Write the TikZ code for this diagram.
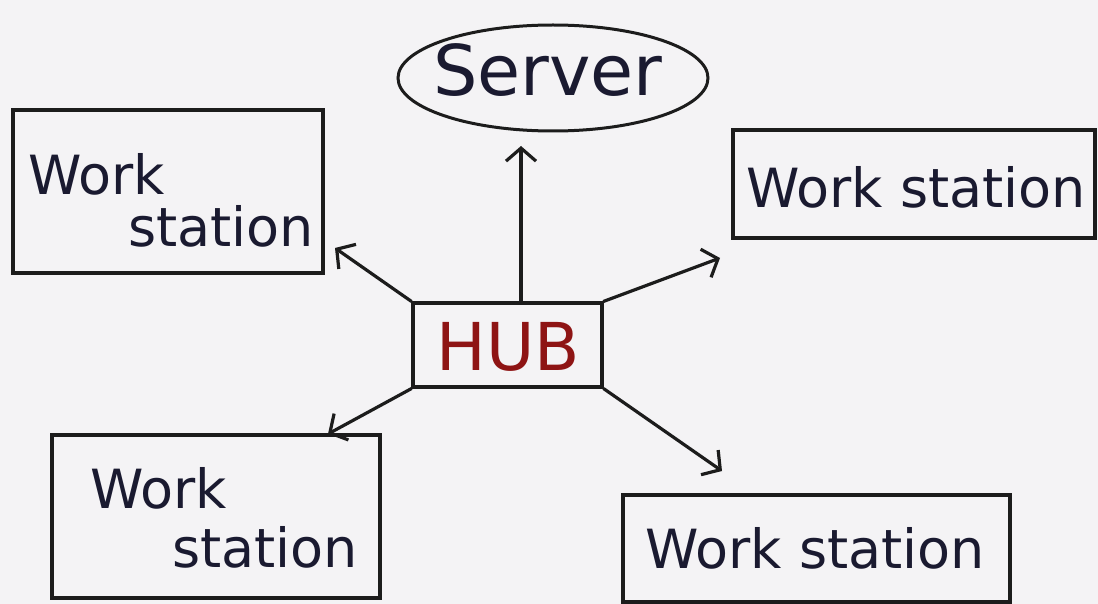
\documentclass[tikz,border=0pt]{standalone}
\usepackage{fontspec}
\setmainfont{DejaVu Sans}
\usetikzlibrary{arrows.meta,shapes.geometric}
\definecolor{ink}{HTML}{1A1A30}
\definecolor{pen}{HTML}{1C1C1C}
\definecolor{hubred}{HTML}{8E1414}
\definecolor{paper}{HTML}{F4F3F5}
\tikzset{
  wsbox/.style={draw=pen, line width=3.2pt, rectangle, inner sep=0pt},
  hw/.style={text=ink, font=\fontsize{54}{54}\selectfont, inner sep=0pt},
  conn/.style={draw=pen, line width=3.2pt, line cap=round, -{Straight Barb[length=13pt,width=30pt,line width=3.2pt]}},
}
\begin{document}
\begin{tikzpicture}[x=1pt,y=-1pt]
\useasboundingbox (0,0) rectangle (1098,604);
\fill[paper] (0,0) rectangle (1098,604);
% boxes
\node[wsbox, minimum width=310pt, minimum height=163pt] (tl) at (168,191.5) {};
\node[wsbox, minimum width=362pt, minimum height=108pt] (tr) at (914,184) {};
\node[wsbox, minimum width=328pt, minimum height=163pt] (bl) at (216,516.5) {};
\node[wsbox, minimum width=387pt, minimum height=107pt] (br) at (816.5,548.5) {};
\node[wsbox, minimum width=189pt, minimum height=84pt] (hub) at (507.5,345) {};
\node[draw=pen, line width=3pt, ellipse, minimum width=310pt, minimum height=106pt, inner sep=0pt] (srv) at (553,78) {};
% texts
\node[hw, anchor=base west] (tlw) at (28,195) {Work};
\node[hw, anchor=base west] (tls) at (128,247) {station};
\node[hw, anchor=base] (trt) at (916,208) {Work station};
\node[hw, anchor=base west] (blw) at (90,508) {Work};
\node[hw, anchor=base west] (bls) at (172,567) {station};
\node[hw, anchor=base] (brt) at (815,568) {Work station};
\node[hw, anchor=base, font=\fontsize{70}{70}\selectfont] (srvt) at (548,96) {Server};
\node[anchor=base, inner sep=0pt, text=hubred, font=\fontsize{66}{66}\selectfont] (hubt) at (508,370) {HUB};
% arrow tips
\coordinate (ttl) at (335,248);
\coordinate (ttr) at (720,258);
\coordinate (tbl) at (328,434);
\coordinate (tbr) at (722,471);
\coordinate (tsv) at (521,146);
% connectors
\draw[conn] (hub.north west) -- (ttl);
\draw[conn] (hub.north east) -- (ttr);
\draw[conn] (hub.south west) -- (tbl);
\draw[conn] (hub.south east) -- (tbr);
\draw[conn] (hub.north -| tsv) -- (tsv);
\end{tikzpicture}
\end{document}
